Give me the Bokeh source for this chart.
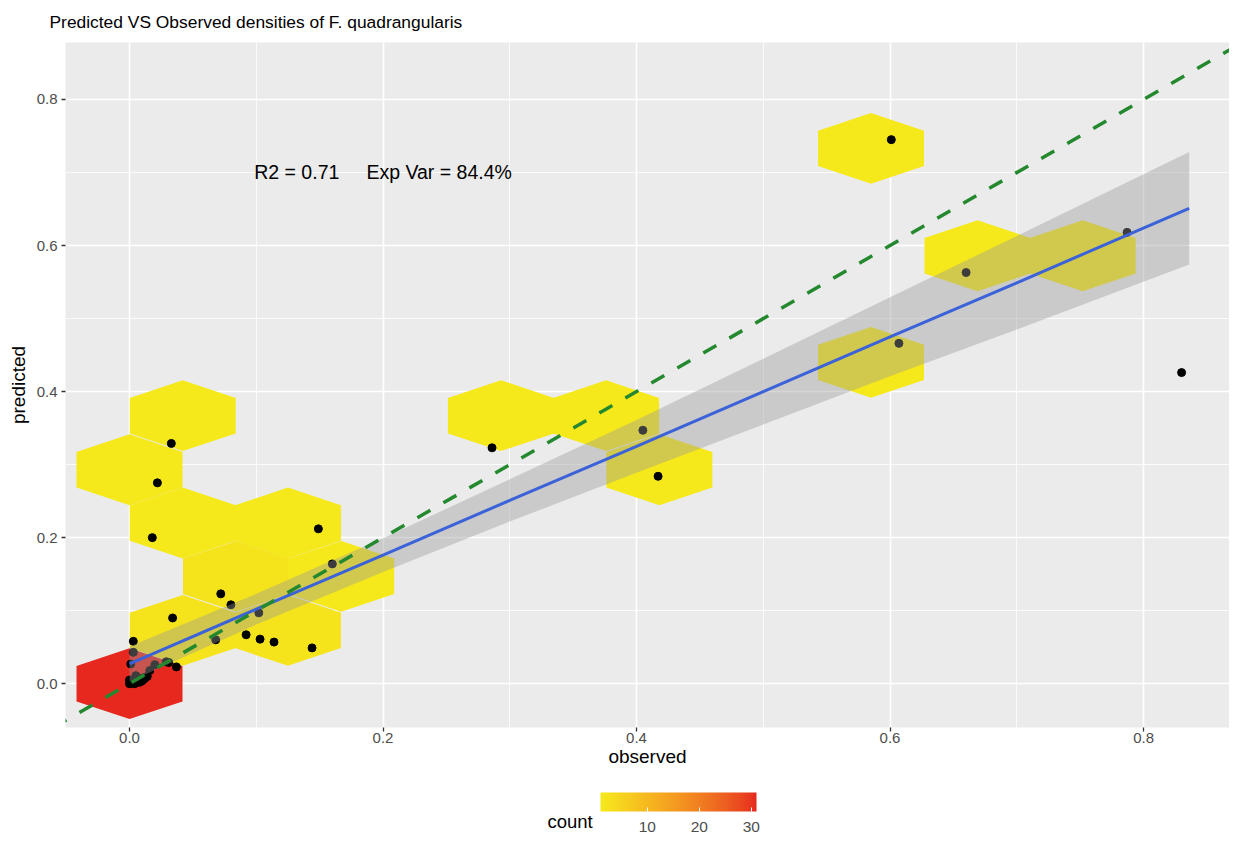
from bokeh.plotting import figure
from bokeh.layouts import column
from bokeh.models import (ColumnDataSource, LinearColorMapper, ColorBar, FixedTicker,
                          Label, Slope, Range1d, PrintfTickFormatter)
from bokeh.embed import file_html
from bokeh.resources import INLINE

# ---------------- data ----------------
title_text = "Predicted VS Observed densities of F. quadrangularis"
x_label = "observed"
y_label = "predicted"
annotation_text = "R2 = 0.71     Exp Var = 84.4%"
annotation_x = 0.2
annotation_y = 0.7
legend_title = "count"

observed = [0.601, 0.660, 0.787, 0.607, 0.830, 0.405, 0.417, 0.286,
            0.033, 0.022, 0.018, 0.149, 0.160, 0.072, 0.080,
            0.034, 0.102, 0.068, 0.092, 0.103, 0.114, 0.144, 0.003,
            0.003, 0.001, 0.020, 0.029, 0.031, 0.037, 0.016, 0.005,
            0.000, 0.000, 0.001, 0.002, 0.003, 0.004, 0.005, 0.006,
            0.007, 0.008, 0.009, 0.010, 0.011, 0.012, 0.013, 0.014,
            0.002, 0.004, 0.006, 0.008, 0.010, 0.000, 0.001]
predicted = [0.745, 0.563, 0.618, 0.466, 0.426, 0.347, 0.284, 0.323,
             0.329, 0.275, 0.200, 0.212, 0.164, 0.123, 0.108,
             0.090, 0.097, 0.060, 0.067, 0.061, 0.057, 0.049, 0.058,
             0.043, 0.027, 0.026, 0.030, 0.029, 0.023, 0.018, 0.011,
             0.000, 0.002, 0.004, 0.001, 0.003, 0.005, 0.006, 0.002,
             0.004, 0.007, 0.005, 0.006, 0.008, 0.007, 0.009, 0.010,
             0.001, 0.000, 0.003, 0.002, 0.004, 0.005, 0.003]

hex_x = [0.000, 0.042, 0.125, 0.084, 0.167, 0.042, 0.125, 0.000, 0.418,
         0.042, 0.293, 0.376, 0.585, 0.669, 0.752, 0.585]
hex_y = [0.000, 0.073, 0.073, 0.147, 0.147, 0.220, 0.220, 0.293, 0.293,
         0.367, 0.367, 0.367, 0.440, 0.586, 0.586, 0.733]
hex_count = [31, 2, 2, 2, 1, 1, 1, 1, 1, 1, 1, 1, 1, 1, 1, 1]

fit_x = [0.0, 0.1, 0.2, 0.3, 0.4, 0.5, 0.6, 0.7, 0.836]
fit_y = [0.027, 0.102, 0.176, 0.251, 0.325, 0.400, 0.475, 0.549, 0.651]
fit_lower = [0.003, 0.081, 0.153, 0.222, 0.289, 0.355, 0.421, 0.485, 0.574]
fit_upper = [0.051, 0.123, 0.199, 0.280, 0.361, 0.445, 0.529, 0.613, 0.728]

axis_ticks = [0.0, 0.2, 0.4, 0.6, 0.8]
axis_minor_ticks = [0.1, 0.3, 0.5, 0.7]
legend_ticks = [10, 20, 30]
count_low, count_high = 1, 31

# ---------------- styles ----------------
FONT = "Liberation Sans"
YELLOW = (245, 233, 28)
RED = (230, 40, 31)
HEX_HALF_W = 0.0418
HEX_HALF_H = 0.0485
FIG_W = 1229


def _srgb_to_lin(c):
    c = c / 255.0
    return c / 12.92 if c <= 0.04045 else ((c + 0.055) / 1.055) ** 2.4


def _lin_to_srgb(c):
    c = max(0.0, min(1.0, c))
    v = 12.92 * c if c <= 0.0031308 else 1.055 * c ** (1 / 2.4) - 0.055
    return int(round(max(0, min(1, v)) * 255))


def _rgb_to_lab(rgb):
    r, g, b = (_srgb_to_lin(v) for v in rgb)
    X = (0.4124 * r + 0.3576 * g + 0.1805 * b) / 0.95047
    Y = (0.2126 * r + 0.7152 * g + 0.0722 * b)
    Z = (0.0193 * r + 0.1192 * g + 0.9505 * b) / 1.08883

    def f(t):
        return t ** (1 / 3) if t > 0.008856 else 7.787 * t + 16 / 116
    fx, fy, fz = f(X), f(Y), f(Z)
    return (116 * fy - 16, 500 * (fx - fy), 200 * (fy - fz))


def _lab_to_rgb(lab):
    L, a, b = lab
    fy = (L + 16) / 116
    fx = fy + a / 500
    fz = fy - b / 200

    def finv(t):
        return t ** 3 if t ** 3 > 0.008856 else (t - 16 / 116) / 7.787
    X, Y, Z = finv(fx) * 0.95047, finv(fy), finv(fz) * 1.08883
    r = 3.2406 * X - 1.5372 * Y - 0.4986 * Z
    g = -0.9689 * X + 1.8758 * Y + 0.0415 * Z
    bb = 0.0557 * X - 0.2040 * Y + 1.0570 * Z
    return "#%02x%02x%02x" % (_lin_to_srgb(r), _lin_to_srgb(g), _lin_to_srgb(bb))


lab_lo, lab_hi = _rgb_to_lab(YELLOW), _rgb_to_lab(RED)
palette = []
for i in range(256):
    t = i / 255
    palette.append(_lab_to_rgb(tuple(lo + (hi - lo) * t for lo, hi in zip(lab_lo, lab_hi))))

mapper = LinearColorMapper(palette=palette, low=count_low, high=count_high)


def blank_figure(h):
    f = figure(width=FIG_W, height=h, output_backend="svg", toolbar_location=None,
               x_range=Range1d(0, FIG_W), y_range=Range1d(0, h),
               x_axis_location=None, y_axis_location=None,
               min_border_left=0, min_border_right=0, min_border_top=0, min_border_bottom=0)
    f.frame_align = False
    f.grid.visible = False
    f.outline_line_color = None
    f.background_fill_color = "white"
    f.border_fill_color = "white"
    return f


# ---------------- header (title) ----------------
header = blank_figure(42)
header.add_layout(Label(x=49, y=20.9, text=title_text, text_align="left",
                        text_baseline="middle", text_font=FONT,
                        text_font_size="17.4px", text_color="black"))

# ---------------- main panel ----------------
hex_xs = [[cx, cx + HEX_HALF_W, cx + HEX_HALF_W, cx, cx - HEX_HALF_W, cx - HEX_HALF_W]
          for cx in hex_x]
hex_ys = [[cy + HEX_HALF_H, cy + HEX_HALF_H / 2, cy - HEX_HALF_H / 2, cy - HEX_HALF_H,
           cy - HEX_HALF_H / 2, cy + HEX_HALF_H / 2] for cy in hex_y]
hex_src = ColumnDataSource(dict(xs=hex_xs, ys=hex_ys, count=hex_count))

p = figure(width=FIG_W, height=745, output_backend="svg", toolbar_location=None, title=None,
           x_range=Range1d(-0.0505, 0.8678), y_range=Range1d(-0.060, 0.878),
           min_border_left=65, min_border_right=0, min_border_top=0, min_border_bottom=60)
p.frame_align = False

p.background_fill_color = "#EBEBEB"
p.border_fill_color = "white"
p.outline_line_color = None

for ax, lab in ((p.xaxis, x_label), (p.yaxis, y_label)):
    ax.ticker = FixedTicker(ticks=axis_ticks, minor_ticks=axis_minor_ticks)
    ax.formatter = PrintfTickFormatter(format="%.1f")
    ax.axis_label = lab
    ax.axis_label_text_font = FONT
    ax.axis_label_text_font_size = "19px"
    ax.axis_label_text_font_style = "normal"
    ax.axis_label_text_color = "black"
    ax.major_label_text_font = FONT
    ax.major_label_text_font_size = "15px"
    ax.major_label_text_color = "#4D4D4D"
    ax.axis_line_color = None
    ax.major_tick_line_color = "#333333"
    ax.major_tick_line_width = 1.3
    ax.major_tick_out = 4
    ax.major_tick_in = 0
    ax.minor_tick_line_color = None
p.xaxis.major_label_standoff = 1
p.xaxis.axis_label_standoff = 0
p.yaxis.major_label_standoff = 4
p.yaxis.axis_label_standoff = 5

for g in (p.xgrid, p.ygrid):
    g.ticker = FixedTicker(ticks=axis_ticks, minor_ticks=axis_minor_ticks)
    g.grid_line_color = "white"
    g.grid_line_width = 1.6
    g.minor_grid_line_color = "white"
    g.minor_grid_line_width = 0.8

p.patches("xs", "ys", source=hex_src, line_color=None,
          fill_color={"field": "count", "transform": mapper})

p.scatter(observed, predicted, size=8, color="black")

p.varea(x=fit_x, y1=fit_lower, y2=fit_upper, fill_color="#999999", fill_alpha=0.4)
p.line(fit_x, fit_y, line_color="#3B62D8", line_width=3)

p.add_layout(Slope(gradient=1, y_intercept=0, line_color="#24892E", line_width=3.5,
                   line_dash="15 15"))

p.add_layout(Label(x=annotation_x, y=annotation_y, text=annotation_text.replace(" ", "\u00a0"),
                   text_align="center", text_baseline="middle", text_font=FONT,
                   text_font_size="19.5px", text_color="black"))

# ---------------- legend ----------------
legend = blank_figure(49)
cb = ColorBar(color_mapper=mapper, orientation="horizontal", location=(600, 2),
              width=156, height=19, padding=0, ticker=FixedTicker(ticks=legend_ticks),
              major_label_text_font=FONT, major_label_text_font_size="15.5px",
              major_label_text_color="#4D4D4D", major_tick_line_color="white",
              major_tick_in=4, major_tick_out=0, label_standoff=10, bar_line_color=None,
              border_line_color=None, background_fill_color=None)
legend.add_layout(cb)
legend.add_layout(Label(x=547, y=15, text=legend_title, text_align="left",
                        text_baseline="middle", text_font=FONT,
                        text_font_size="18.5px", text_color="black"))

layout = column(header, p, legend, spacing=0)
open("out.html", "w").write(file_html(layout, INLINE))
